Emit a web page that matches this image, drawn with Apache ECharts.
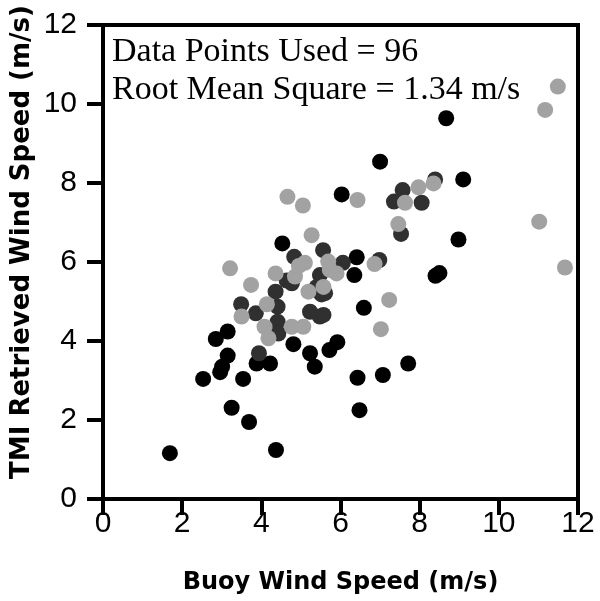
<!DOCTYPE html>
<html>
<head>
<meta charset="utf-8">
<script src="https://cdn.jsdelivr.net/npm/echarts@6/dist/echarts.min.js"></script>
<style>
  html, body { margin: 0; padding: 0; background: #fff; }
  #chart { width: 600px; height: 601px; }
</style>
</head>
<body>
<div id="chart"></div>
<script>
// buoy speed vs TMI retrieved speed (m/s)
var blackPts = [
  [1.69, 1.16], [4.37, 1.24], [3.25, 2.31], [3.69, 1.95], [2.53, 3.04], [3.54, 3.04],
  [2.96, 3.21], [3.01, 3.35], [3.15, 3.63], [2.85, 4.05], [3.15, 4.24], [3.88, 3.43],
  [4.22, 3.43], [4.81, 3.92], [5.23, 3.69], [5.35, 3.35], [5.72, 3.77], [5.92, 3.97],
  [6.43, 3.07], [7.07, 3.14], [7.71, 3.43], [6.48, 2.25], [6.59, 4.84], [6.35, 5.67],
  [6.41, 6.12], [6.03, 7.71], [7.00, 8.54], [8.67, 9.64], [9.10, 8.09], [8.98, 6.57],
  [8.40, 5.65], [8.50, 5.72], [4.53, 6.47]
];
var darkPts = [
  [4.83, 6.13], [5.56, 6.30], [4.64, 5.53], [4.77, 5.46], [4.36, 5.25], [4.41, 4.87],
  [4.41, 4.49], [4.43, 4.19], [3.49, 4.93], [3.86, 4.70], [5.23, 4.74], [5.48, 4.62],
  [5.52, 5.18], [5.57, 4.66], [5.48, 5.67], [5.40, 5.37], [5.61, 5.21], [3.94, 3.69],
  [6.06, 5.98], [6.98, 6.05], [7.57, 7.82], [8.39, 8.09], [7.35, 7.53], [8.05, 7.50],
  [7.53, 6.71]
];
var greyPts = [
  [4.66, 7.65], [5.05, 7.43], [5.27, 6.68], [5.10, 5.98], [3.21, 5.84], [4.36, 5.71],
  [3.74, 5.42], [4.85, 5.63], [5.19, 5.25], [4.14, 4.93], [3.50, 4.62], [4.08, 4.36],
  [4.18, 4.07], [4.77, 4.36], [5.06, 4.36], [5.57, 5.37], [5.73, 5.80], [5.69, 6.01],
  [5.90, 5.71], [6.86, 5.95], [6.43, 7.57], [7.97, 7.89], [8.35, 7.99], [7.63, 7.50],
  [7.46, 6.96], [7.23, 5.04], [7.02, 4.30], [11.49, 10.44], [11.17, 9.85], [11.02, 7.02],
  [11.67, 5.86], [4.95, 5.90]
];
var xTitle = 'Buoy Wind Speed (m/s)';
var yTitle = 'TMI Retrieved Wind Speed (m/s)';
var noteLines = ['Data Points Used = 96', 'Root Mean Square = 1.34 m/s'];

var chart = echarts.init(document.getElementById('chart'));

var axisCommon = {
  type: 'value',
  min: 0,
  max: 12,
  interval: 2,
  splitLine: { show: false },
  axisLine: { show: true, onZero: false, lineStyle: { color: '#000', width: 4 } },
  axisTick: { show: true, length: 16, lineStyle: { color: '#000', width: 4 } },
  axisLabel: { color: '#000', fontFamily: 'Liberation Sans', fontSize: 30 }
};

function dots(data, color) {
  return {
    type: 'scatter',
    data: data,
    symbol: 'circle',
    symbolSize: 16,
    itemStyle: { color: color, opacity: 1 },
    silent: true
  };
}

var option = {
  animation: false,
  backgroundColor: '#fff',
  grid: {
    left: 103, top: 25, width: 475, height: 474,
    outerBoundsMode: 'none',
    show: true, borderColor: '#000', borderWidth: 4, backgroundColor: 'transparent'
  },
  xAxis: echarts.util.merge({
    name: xTitle,
    nameLocation: 'middle',
    nameGap: 72,
    nameTextStyle: { color: '#000', fontFamily: 'DejaVu Sans', fontWeight: 'bold', fontSize: 24 },
    axisLabel: { margin: 10 }
  }, axisCommon),
  yAxis: echarts.util.merge({
    axisLabel: { margin: 26 }
  }, axisCommon),
  graphic: [
    {
      type: 'text', x: 22, y: 242, rotation: Math.PI / 2,
      style: { text: yTitle, fill: '#000', font: 'bold 26px "DejaVu Sans"', textAlign: 'center', textVerticalAlign: 'middle' }
    },
    {
      type: 'text', x: 112, y: 52,
      style: { text: noteLines[0], fill: '#000', font: '34px "Liberation Serif"', textAlign: 'left', textVerticalAlign: 'middle' }
    },
    {
      type: 'text', x: 112, y: 90,
      style: { text: noteLines[1], fill: '#000', font: '34px "Liberation Serif"', textAlign: 'left', textVerticalAlign: 'middle' }
    }
  ],
  series: [
    dots(blackPts, '#000000'),
    dots(darkPts, '#303030'),
    dots(greyPts, '#a2a2a2')
  ]
};

chart.setOption(option);
</script>
</body>
</html>
